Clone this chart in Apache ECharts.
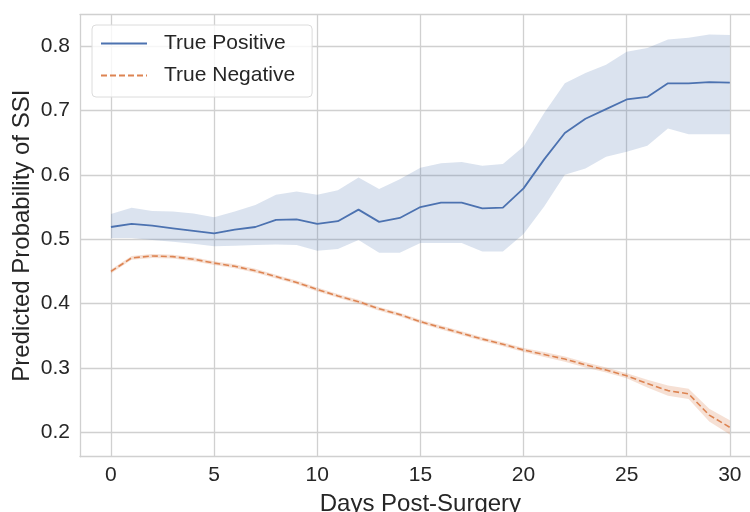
<!DOCTYPE html>
<html><head><meta charset="utf-8">
<script src="https://cdn.jsdelivr.net/npm/echarts@6/dist/echarts.min.js"></script>
<style>html,body{margin:0;padding:0;background:#fff}#c{width:750px;height:512px}</style>
</head><body><div id="c"></div><script>
const days = [0,1,2,3,4,5,6,7,8,9,10,11,12,13,14,15,16,17,18,19,20,21,22,23,24,25,26,27,28,29,30];
const tpMean  = [0.519,0.524,0.521,0.517,0.513,0.509,0.515,0.519,0.530,0.531,0.524,0.528,0.546,0.527,0.533,0.550,0.557,0.557,0.548,0.549,0.579,0.624,0.665,0.687,0.702,0.717,0.721,0.742,0.742,0.744,0.743];
const tpUpper = [0.539,0.549,0.544,0.543,0.540,0.534,0.543,0.553,0.569,0.574,0.569,0.576,0.596,0.578,0.593,0.611,0.618,0.620,0.614,0.617,0.644,0.696,0.742,0.758,0.771,0.791,0.797,0.810,0.813,0.818,0.817];
const tpLower = [0.502,0.502,0.499,0.496,0.493,0.489,0.490,0.491,0.492,0.491,0.482,0.485,0.499,0.479,0.479,0.494,0.494,0.494,0.481,0.481,0.508,0.551,0.600,0.610,0.628,0.636,0.645,0.672,0.663,0.663,0.663];
const tnMean  = [0.450,0.471,0.474,0.473,0.469,0.463,0.458,0.451,0.442,0.433,0.422,0.412,0.403,0.392,0.383,0.372,0.363,0.354,0.345,0.337,0.328,0.321,0.314,0.305,0.297,0.288,0.276,0.265,0.260,0.227,0.208];
const tnUpper = [0.453,0.474,0.477,0.476,0.472,0.466,0.461,0.454,0.445,0.436,0.425,0.415,0.406,0.395,0.386,0.375,0.366,0.357,0.348,0.340,0.331,0.325,0.318,0.309,0.301,0.292,0.282,0.273,0.268,0.237,0.219];
const tnLower = [0.447,0.468,0.471,0.470,0.466,0.460,0.455,0.448,0.439,0.430,0.419,0.409,0.400,0.389,0.380,0.369,0.360,0.351,0.342,0.334,0.325,0.317,0.310,0.301,0.293,0.284,0.270,0.257,0.252,0.217,0.197];
const xTicks = [0,5,10,15,20,25,30];
const yTicks = [0.2,0.3,0.4,0.5,0.6,0.7,0.8];
const seriesNames = ['True Positive','True Negative'];
const xLabel = 'Days Post-Surgery';
const yLabel = 'Predicted Probability of SSI';

const X_MIN=-1.5, X_MAX=31.5, Y_MIN=0.1624, Y_MAX=0.8486;
const G = {left:80, top:14.7, width:680.8, height:442};
const xT0 = xTicks[0], xT1 = xTicks[xTicks.length-1];
const yT0 = yTicks[0], yT1 = yTicks[yTicks.length-1];
const gX = {left: G.left + (xT0-X_MIN)/(X_MAX-X_MIN)*G.width, width:(xT1-xT0)/(X_MAX-X_MIN)*G.width, top:G.top, height:G.height};
const gY = {left: G.left, width: G.width, top: G.top + (Y_MAX-yT1)/(Y_MAX-Y_MIN)*G.height, height:(yT1-yT0)/(Y_MAX-Y_MIN)*G.height};

const FONT = 'Liberation Sans';
const TXT = '#262626';
const GRIDC = '#d0d0d0';
const BLUE = '#4c72b0', ORANGE = '#dd8452';

const pairs = (arr) => days.map((d,i)=>[d, arr[i]]);
const bandData = (lo, hi) => days.map((d,i)=>[d, lo[i], hi[i]]);

const frameLine = {show:true, onZero:false, lineStyle:{color:GRIDC, width:1.3}};
const hiddenAxis = (extra) => Object.assign({type:'value', axisLine:{show:false}, axisTick:{show:false}, axisLabel:{show:false}, splitLine:{show:false}}, extra);

function bandSeries(lo, hi, fill) {
  const data = bandData(lo, hi);
  return {type:'custom', xAxisIndex:0, yAxisIndex:0, data:data, encode:{x:0, y:[1,2]}, z:1, silent:true,
    renderItem: function(params, api){
      if (params.dataIndex !== 0) return;
      const top = [], bot = [];
      for (let i = 0; i < data.length; i++) {
        top.push(api.coord([data[i][0], data[i][2]]));
        bot.push(api.coord([data[i][0], data[i][1]]));
      }
      return {type:'polygon', shape:{points:top.concat(bot.reverse())}, style:{fill:fill}, silent:true};
    }};
}

const chart = echarts.init(document.getElementById('c'), null, {renderer:'canvas'});
chart.setOption({
  animation:false,
  backgroundColor:'#fff',
  textStyle:{fontFamily:FONT},
  grid:[
    Object.assign({containLabel:false, outerBoundsMode:'none'}, G),
    Object.assign({containLabel:false, outerBoundsMode:'none'}, gX),
    Object.assign({containLabel:false, outerBoundsMode:'none'}, gY)
  ],
  xAxis:[
    hiddenAxis({gridIndex:0, min:X_MIN, max:X_MAX, position:'bottom', axisLine:frameLine, name:xLabel, nameLocation:'middle', nameGap:36,
      nameTextStyle:{fontSize:24, color:TXT, fontFamily:FONT}}),
    {type:'value', gridIndex:1, min:xT0, max:xT1, interval:5, axisLine:{show:false}, axisTick:{show:false},
      axisLabel:{fontSize:21, color:TXT, margin:8, fontFamily:FONT},
      splitLine:{show:true, lineStyle:{color:GRIDC, width:1.3}}},
    hiddenAxis({gridIndex:2, min:X_MIN, max:X_MAX}),
    hiddenAxis({gridIndex:0, min:X_MIN, max:X_MAX, position:'top', axisLine:frameLine})
  ],
  yAxis:[
    hiddenAxis({gridIndex:0, min:Y_MIN, max:Y_MAX, position:'left', axisLine:frameLine, name:yLabel, nameLocation:'middle', nameGap:46,
      nameTextStyle:{fontSize:24, color:TXT, fontFamily:FONT}}),
    hiddenAxis({gridIndex:1, min:Y_MIN, max:Y_MAX}),
    {type:'value', gridIndex:2, min:yT0, max:yT1, interval:0.1, axisLine:{show:false}, axisTick:{show:false},
      axisLabel:{fontSize:21, color:TXT, margin:10, fontFamily:FONT, formatter:(v)=>v.toFixed(1)},
      splitLine:{show:true, lineStyle:{color:GRIDC, width:1.3}}}
  ],
  legend:{
    data:seriesNames, orient:'vertical', left:92, top:25,
    padding:[8,17,11,8], itemGap:11, itemWidth:46, itemHeight:20,
    itemStyle:{opacity:0},
    backgroundColor:'rgba(255,255,255,0.8)', borderColor:'#dcdcdc', borderWidth:1, borderRadius:4,
    textStyle:{fontSize:21, color:TXT, fontFamily:FONT, padding:[0,0,0,12], lineHeight:20}
  },
  series:[
    bandSeries(tpLower, tpUpper, 'rgba(76,114,176,0.2)'),
    bandSeries(tnLower, tnUpper, 'rgba(221,132,82,0.25)'),
    {type:'line', name:seriesNames[0], data:pairs(tpMean), symbol:'none', color:BLUE,
      lineStyle:{color:BLUE, width:1.8}, z:3},
    {type:'line', name:seriesNames[1], data:pairs(tnMean), symbol:'none', color:ORANGE,
      lineStyle:{color:ORANGE, width:1.6, type:[6,3]}, z:3}
  ]
});
</script></body></html>
